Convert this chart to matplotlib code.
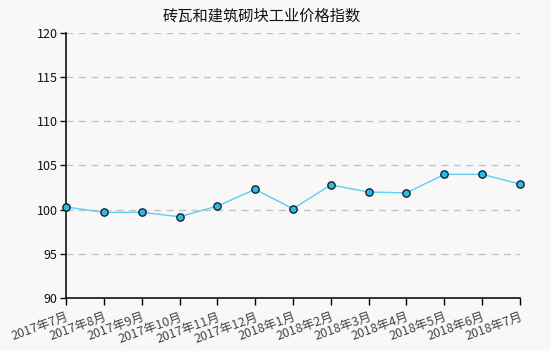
import matplotlib
matplotlib.use("Agg")
import matplotlib.pyplot as plt

plt.rcParams['font.family'] = ['Noto Sans CJK SC', 'DejaVu Sans']

# 数据
months = ["2017年7月", "2017年8月", "2017年9月", "2017年10月", "2017年11月", "2017年12月",
          "2018年1月", "2018年2月", "2018年3月", "2018年4月", "2018年5月", "2018年6月", "2018年7月"]
index_vals = [100.3, 99.7, 99.7, 99.2, 100.4, 102.3, 100.1, 102.8, 102.0, 101.9, 104.0, 104.0, 102.9]
y_ticks = [90, 95, 100, 105, 110, 115, 120]

bg = "#f8f8f8"
fig = plt.figure(figsize=(5.51, 3.51), dpi=100, facecolor=bg)
ax = fig.add_axes([0.1198, 0.151, 0.8239, 0.755], facecolor=bg)

x = list(range(len(months)))
ax.plot(x, index_vals, color="#5ccff2", lw=1, zorder=3)
ax.scatter(x, index_vals, s=28, color="#2bbbe9", edgecolor="#111111", linewidth=0.9, zorder=4, clip_on=False)

ax.set_xlim(0, len(months) - 1)
ax.set_ylim(90, 120)
ax.set_yticks(y_ticks)
ax.set_xticks(x)
ax.set_xticklabels(months, rotation=20, ha="right", rotation_mode="anchor",
                   fontsize=9, color="#444444")
ax.tick_params(axis="y", labelsize=9, length=4, width=1, colors="#111111", pad=2)
ax.tick_params(axis="x", length=5, width=1, pad=4)

for y in y_ticks[1:]:
    ax.axhline(y, color="#c4c4c4", lw=1, ls=(0, (5, 4)), zorder=1)

for s in ["top", "right"]:
    ax.spines[s].set_visible(False)
for s in ["left", "bottom"]:
    ax.spines[s].set_linewidth(1.2)
    ax.spines[s].set_color("#111111")

fig.text(0.475, 0.955, "砖瓦和建筑砌块工业价格指数", ha="center", va="center", fontsize=11, color="#111111")

fig.savefig("out.png", dpi=100, facecolor=bg)
